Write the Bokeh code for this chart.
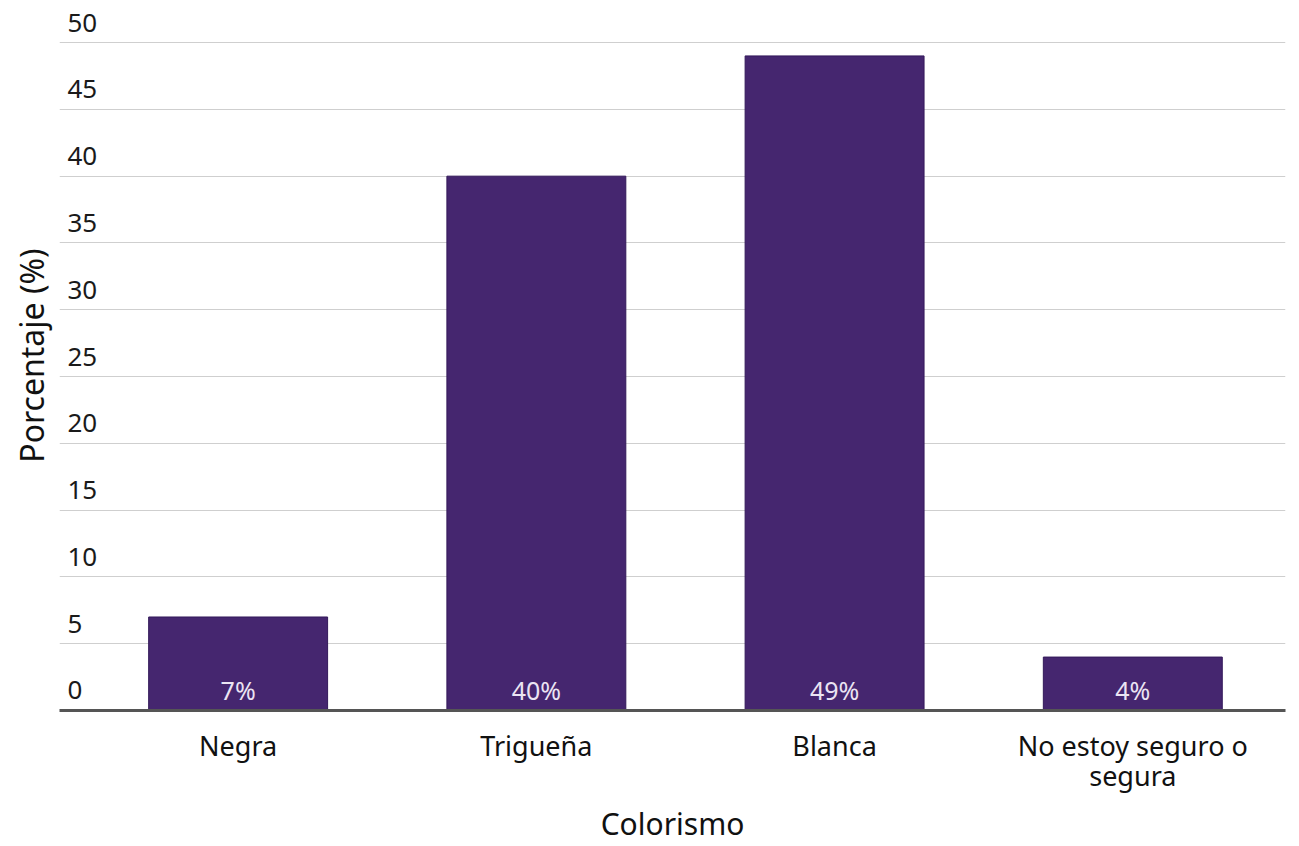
from bokeh.plotting import figure
from bokeh.models import Range1d, FixedTicker, ColumnDataSource, Title
from bokeh.core.properties import value
from bokeh.embed import file_html
from bokeh.resources import INLINE

# ---- data ----
categories = ["Negra", "Trigueña", "Blanca", "No estoy seguro o segura"]
category_tick_labels = ["Negra", "Trigueña", "Blanca", "No estoy seguro o\nsegura"]
percentages = [7, 40, 49, 4]
bar_labels = ["7%", "40%", "49%", "4%"]
y_ticks = [0, 5, 10, 15, 20, 25, 30, 35, 40, 45, 50]
y_tick_labels = ["0", "5", "10", "15", "20", "25", "30", "35", "40", "45", "50"]
x_title = "Colorismo"
y_title = "Porcentaje (%)"

FONT = "Noto Sans"
BAR_COLOR = "#45266f"

Y_END = 53.15
PX_PER_UNIT = 13.34   # approximate, used only to nudge labels a few pixels

positions = list(range(len(categories)))
x_start, x_end = -0.599, 3.512

p = figure(
    width=1299, height=846,
    x_range=Range1d(x_start, x_end), y_range=Range1d(0, Y_END),
    output_backend="svg", toolbar_location=None,
    min_border_left=57, min_border_right=14, min_border_top=0, min_border_bottom=100,
)
p.outline_line_color = None
p.background_fill_color = "white"
p.border_fill_color = "white"

# bars
bars = ColumnDataSource(dict(x=positions, top=percentages, label=bar_labels, cat=categories,
                             ly=[20 / PX_PER_UNIT] * len(positions)))
p.vbar(x="x", top="top", width=0.6, source=bars, fill_color=BAR_COLOR, line_color="#33195a", line_width=1)
p.text(x="x", y="ly", text="label", source=bars, text_align="center", text_baseline="middle",
       text_font=value(FONT), text_font_size="25px", text_color="#ebe4f3")

# y tick labels sit above their gridlines, as in the reference
ticks_src = ColumnDataSource(dict(y=[t + 20 / PX_PER_UNIT for t in y_ticks], t=y_tick_labels,
                                  x=[x_start + 8 / 298.7] * len(y_ticks)))
p.text(x="x", y="y", text="t", source=ticks_src,
       text_align="left", text_baseline="middle",
       text_font=value(FONT), text_font_size="26px", text_color="#1a1a1a")

# x axis
p.xaxis.ticker = FixedTicker(ticks=positions)
p.xaxis.major_label_overrides = {i: lab for i, lab in zip(positions, category_tick_labels)}
p.xaxis.axis_line_color = "#555555"
p.xaxis.axis_line_width = 3
p.xaxis.major_tick_line_color = None
p.xaxis.minor_tick_line_color = None
p.xaxis.major_label_standoff = 10
p.xaxis.major_label_text_font = FONT
p.xaxis.major_label_text_font_size = "27px"
p.xaxis.major_label_text_color = "#111111"
p.xaxis.major_label_text_line_height = 0.82
p.xaxis.axis_label = x_title
p.xaxis.axis_label_text_font = FONT
p.xaxis.axis_label_text_font_size = "30px"
p.xaxis.axis_label_text_font_style = "normal"
p.xaxis.axis_label_text_color = "#111111"
p.xaxis.axis_label_standoff = 6

# y axis: hidden, title shown as a left-side title
p.yaxis.visible = False
p.add_layout(Title(text=y_title, align="center", text_font=FONT, text_font_size="32px",
                   text_font_style="normal", text_color="#111111", standoff=14), "left")

p.xgrid.grid_line_color = None
p.ygrid.ticker = FixedTicker(ticks=y_ticks)
p.ygrid.grid_line_color = "#cfcfcf"
p.ygrid.grid_line_width = 1

open("out.html", "w").write(file_html(p, INLINE))
